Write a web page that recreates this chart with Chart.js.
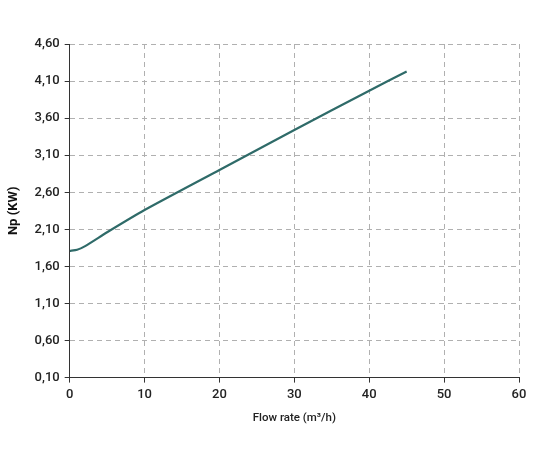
<!DOCTYPE html>
<html>
<head>
<meta charset="utf-8">
<script src="https://cdn.jsdelivr.net/npm/chart.js@4.4.0/dist/chart.umd.min.js"></script>
<style>
  html, body { margin: 0; padding: 0; background: #ffffff; }
  #box { width: 539px; height: 458px; }
</style>
</head>
<body>
<div id="box"><canvas id="grafico"></canvas></div>
<script>
// Datos
const caudal = [0, 1, 2, 5, 10, 20, 30, 40, 45];
const potencia = [1.81, 1.825, 1.87, 2.06, 2.36, 2.90, 3.44, 3.97, 4.23];
const ticksX = [0, 10, 20, 30, 40, 50, 60];
const ticksY = [0.10, 0.60, 1.10, 1.60, 2.10, 2.60, 3.10, 3.60, 4.10, 4.60];

const puntos = caudal.map((x, i) => ({ x: x, y: potencia[i] }));
const fuente = "Roboto, 'Noto Sans', sans-serif";

const ctx = document.getElementById('grafico').getContext('2d');

// Rejilla discontinua, marcas de eje sólidas
const rejilla = { color: '#b0b0b0', tickColor: '#333', tickLength: 5, tickBorderDash: [] };
const borde = { display: true, color: '#333', width: 1, dash: [5, 4] };

new Chart(ctx, {
    type: 'line',
    data: {
        datasets: [{
            label: 'Np',
            data: puntos,
            borderColor: '#2f6b69',
            borderWidth: 2.2,
            pointRadius: 0,
            fill: false,
            tension: 0.2
        }]
    },
    options: {
        responsive: true,
        maintainAspectRatio: false,
        animation: false,
        layout: { padding: { left: 2, right: 20, top: 44, bottom: 29 } },
        plugins: {
            legend: { display: false },
            tooltip: { enabled: false }
        },
        scales: {
            x: {
                type: 'linear',
                min: 0,
                max: 60,
                afterBuildTicks: axis => { axis.ticks = ticksX.map(v => ({ value: v })); },
                ticks: { color: '#222', font: { family: fuente, size: 13, weight: 500 }, padding: 4, maxRotation: 0 },
                grid: rejilla,
                border: borde,
                title: { display: true, text: 'Flow rate (m³/h)', color: '#222', font: { family: fuente, size: 11.5, weight: 500 }, padding: { top: 5 } }
            },
            y: {
                type: 'linear',
                min: 0.1,
                max: 4.6,
                afterBuildTicks: axis => { axis.ticks = ticksY.map(v => ({ value: v })); },
                ticks: {
                    color: '#222',
                    font: { family: fuente, size: 13, weight: 500 },
                    padding: 5,
                    callback: v => v.toFixed(2).replace('.', ',')
                },
                grid: rejilla,
                border: borde,
                title: { display: true, text: 'Np (KW)', color: '#111', font: { family: fuente, size: 13, weight: 'bold' }, padding: { bottom: 8 } }
            }
        }
    }
});
</script>
</body>
</html>
